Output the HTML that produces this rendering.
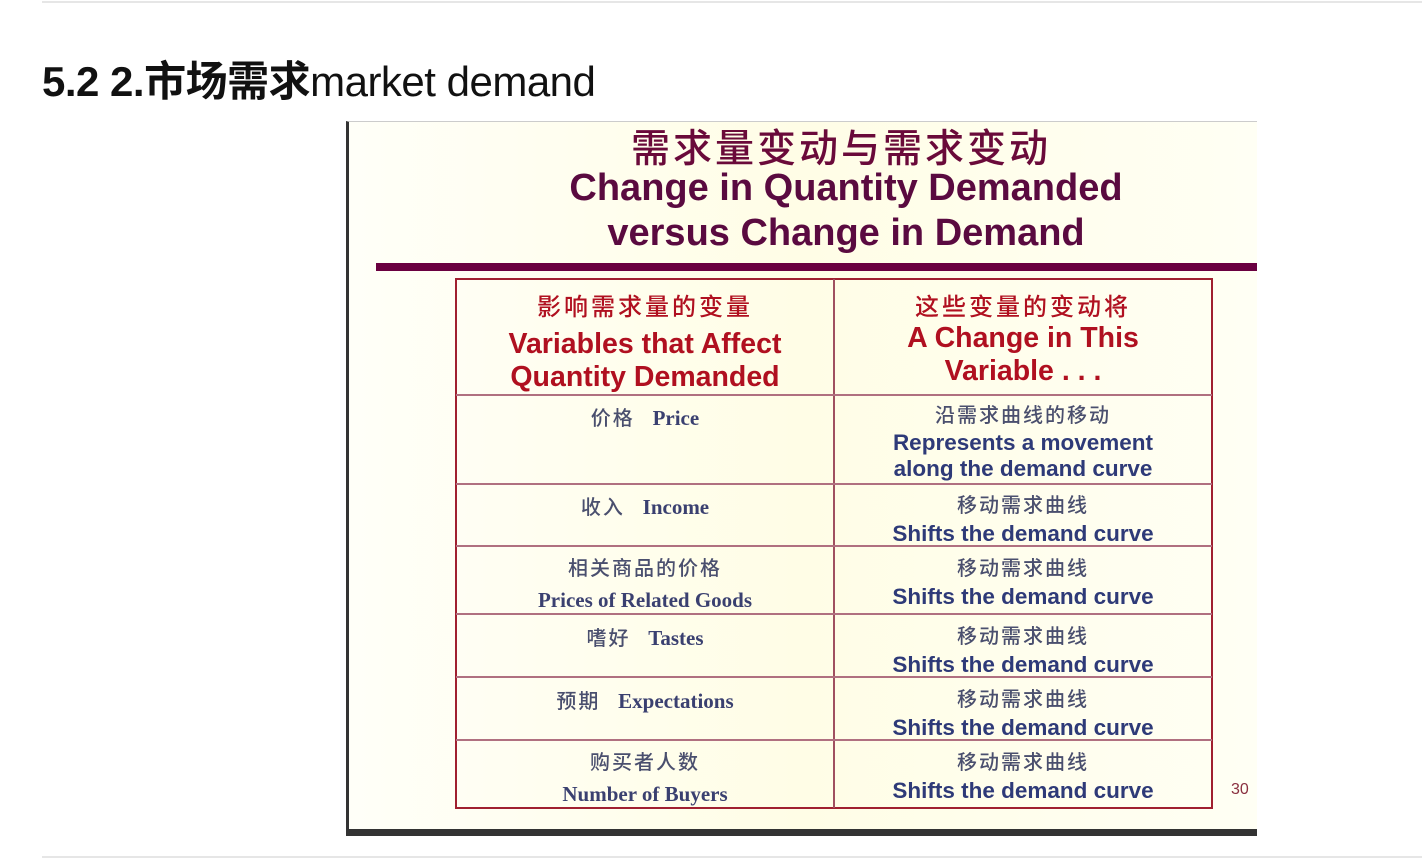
<!DOCTYPE html>
<html><head><meta charset="utf-8"><style>
body{margin:0;width:1422px;height:865px;background:#fff;position:relative;overflow:hidden;font-family:"Liberation Sans","Noto Sans CJK SC",sans-serif}
.a{position:absolute}
.c{position:absolute;text-align:center;white-space:nowrap}
.cn{color:#4a4f6e;font-size:20px;letter-spacing:2px;font-weight:500}
.en{color:#2e3a78;font-weight:bold;font-size:22.5px}
.ser{font-family:"Liberation Serif","Noto Serif CJK SC",serif;color:#3a4070;font-weight:bold;font-size:21px}
.hl{position:absolute;left:456px;width:756px;height:2px;background:#b07080}
</style></head><body>
<div class="a" style="left:42px;top:1px;width:1380px;height:2px;background:#e6e6e6"></div>
<div class="a" style="left:42px;top:48px;font-size:42px;font-weight:bold;color:#111;letter-spacing:-0.5px">5.2 2.市场需求<span style="font-weight:normal">market demand</span></div>
<div class="a" style="left:346px;top:121px;width:911px;height:714px;background:linear-gradient(90deg,#fffff8,#fffde6 50%,#fffff4);border-left:3px solid #333;border-top:1px solid #ccc;box-sizing:border-box"></div>
<div class="a" style="left:346px;top:829px;width:911px;height:7px;background:#333"></div>
<div class="c" style="left:341px;width:1000px;top:118px;font-size:39px;color:#6a0a3a;letter-spacing:3px;font-weight:500">需求量变动与需求变动</div>
<div class="c" style="left:346px;width:1000px;top:166px;font-size:38px;line-height:45px;color:#5a0a40;font-weight:bold">Change in Quantity Demanded<br>versus Change in Demand</div>
<div class="a" style="left:376px;top:263px;width:881px;height:8px;background:#6a0040"></div>
<div class="a" style="left:455px;top:278px;width:758px;height:531px;border:2px solid #a02030;box-sizing:border-box"></div>
<div class="a" style="left:833px;top:279px;width:2px;height:529px;background:#a05060"></div>
<div class="hl" style="top:394px"></div>
<div class="hl" style="top:483px"></div>
<div class="hl" style="top:545px"></div>
<div class="hl" style="top:613px"></div>
<div class="hl" style="top:676px"></div>
<div class="hl" style="top:739px"></div>
<div class="c" style="left:456px;width:378px;top:287px;color:#b01020">
<div style="font-size:24px;letter-spacing:3px;font-weight:500">影响需求量的变量</div>
<div style="font-size:28.5px;font-weight:bold;line-height:33px;margin-top:6px">Variables that Affect<br>Quantity Demanded</div></div>
<div class="c" style="left:834px;width:378px;top:287px;color:#b01020">
<div style="font-size:24px;letter-spacing:3px;font-weight:500">这些变量的变动将</div>
<div style="font-size:28.5px;font-weight:bold;line-height:33px;margin-top:0px">A Change in This<br>Variable . . .</div></div>
<div class="c" style="left:456px;width:378px;top:402px"><span class="cn">价格</span>&nbsp;&nbsp;&nbsp;&nbsp;<span class="ser">Price</span></div>
<div class="c" style="left:834px;width:378px;top:403px;line-height:27px"><div class="cn">沿需求曲线的移动</div><div class="en" style="line-height:26px">Represents a movement<br>along the demand curve</div></div>
<div class="c" style="left:456px;width:378px;top:491px"><span class="cn">收入</span>&nbsp;&nbsp;&nbsp;&nbsp;<span class="ser">Income</span></div>
<div class="c" style="left:834px;width:378px;top:492px;line-height:28px"><div class="cn">移动需求曲线</div><div class="en">Shifts the demand curve</div></div>
<div class="c" style="left:456px;width:378px;top:554px;line-height:31px"><div class="cn">相关商品的价格</div><div class="ser">Prices of Related Goods</div></div>
<div class="c" style="left:834px;width:378px;top:555px;line-height:28px"><div class="cn">移动需求曲线</div><div class="en">Shifts the demand curve</div></div>
<div class="c" style="left:456px;width:378px;top:622px"><span class="cn">嗜好</span>&nbsp;&nbsp;&nbsp;&nbsp;<span class="ser">Tastes</span></div>
<div class="c" style="left:834px;width:378px;top:623px;line-height:28px"><div class="cn">移动需求曲线</div><div class="en">Shifts the demand curve</div></div>
<div class="c" style="left:456px;width:378px;top:685px"><span class="cn">预期</span>&nbsp;&nbsp;&nbsp;&nbsp;<span class="ser">Expectations</span></div>
<div class="c" style="left:834px;width:378px;top:686px;line-height:28px"><div class="cn">移动需求曲线</div><div class="en">Shifts the demand curve</div></div>
<div class="c" style="left:456px;width:378px;top:748px;line-height:31px"><div class="cn">购买者人数</div><div class="ser">Number of Buyers</div></div>
<div class="c" style="left:834px;width:378px;top:749px;line-height:28px"><div class="cn">移动需求曲线</div><div class="en">Shifts the demand curve</div></div>
<div class="a" style="left:1231px;top:781px;font-size:16px;color:#8a3040">30</div>
<div class="a" style="left:42px;top:856px;width:1380px;height:2px;background:#e6e6e6"></div>
</body></html>
